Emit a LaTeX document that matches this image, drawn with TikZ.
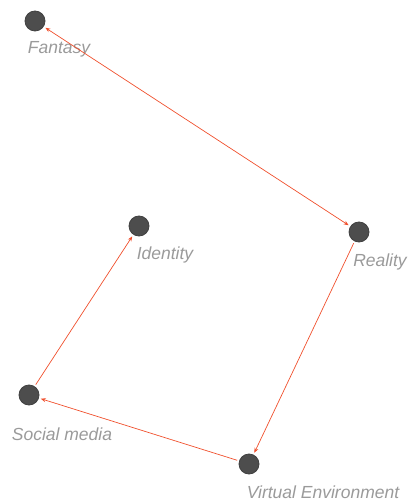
\documentclass[tikz,border=0pt]{standalone}
\usepackage{fontspec}
\setmainfont{Liberation Sans}
\usetikzlibrary{arrows.meta}
\definecolor{linkred}{HTML}{F0502D}
\definecolor{dotgray}{HTML}{4D4D4D}
\definecolor{labelgray}{HTML}{9A9A9A}

\begin{document}
\begin{tikzpicture}[
    x=1pt, y=-1pt,
    >={Stealth[length=5pt, width=4pt]},
    % Styles
    concept/.style={circle, fill=dotgray, draw=black!75, line width=0.8pt, minimum size=20pt, inner sep=0pt},
    concept_label/.style={text=labelgray, font=\itshape\fontsize{17.5}{20}\selectfont, inner sep=0pt},
    link/.style={linkred, line width=0.7pt, shorten >=2pt, shorten <=2pt}
]
    \useasboundingbox (0,0) rectangle (407,502);

    % ==========================================
    % 1. CONCEPT NODES
    % ==========================================
    \node[concept] (fantasy)  at (35, 21) {};
    \node[concept] (reality)  at (359, 232) {};
    \node[concept] (identity) at (139, 226) {};
    \node[concept] (social)   at (29, 395) {};
    \node[concept] (virtual)  at (249, 464) {};

    % ==========================================
    % 2. LABELS
    % ==========================================
    \node[concept_label] (fantasy_l)  at (59, 49)   {Fantasy};
    \node[concept_label] (reality_l)  at (380, 262) {Reality};
    \node[concept_label] (identity_l) at (165, 255) {Identity};
    \node[concept_label] (social_l)   at (62, 434)  {Social media};
    \node[concept_label] (virtual_l)  at (323, 492) {Virtual Environment};

    % ==========================================
    % 3. LINKS
    % ==========================================
    \draw[link, <->] (fantasy) -- (reality);
    \draw[link, ->] (reality) -- (virtual);
    \draw[link, ->] (virtual) -- (social);
    \draw[link, ->] (social) -- (identity);

\end{tikzpicture}
\end{document}
